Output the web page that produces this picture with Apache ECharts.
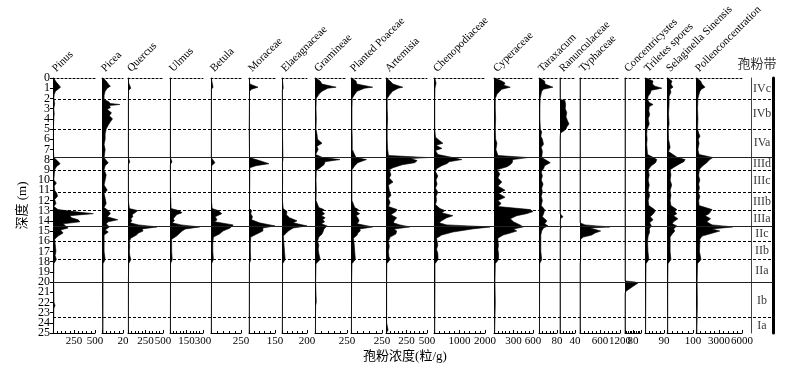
<!DOCTYPE html>
<html><head><meta charset="utf-8">
<script src="https://cdn.jsdelivr.net/npm/echarts@6/dist/echarts.min.js"></script>
<style>html,body{margin:0;padding:0;background:#fff}#c{width:802px;height:372px}</style>
</head><body><div id="c"></div>
<script>
// ---------- data ----------
const taxa = ['Pinus','Picea','Quercus','Ulmus','Betula','Moraceae','Elaeagnaceae','Gramineae','Planted Poaceae','Artemisia','Chenopodiaceae','Cyperaceae','Taraxacum','Ranunculaceae','Typhaceae','Concentricystes','Triletes spores','Selaginella Sinensis','Pollenconcentration'];
const axisMax = [500,20,500,300,250,150,200,250,250,500,2000,600,80,40,1200,160,90,100,6000];
const tickLabels = [[250,500],[20],[250,500],[150,300],[250],[150],[200],[250],[250],[250,500],[1000,2000],[300,600],[80],[40],[600,1200],[80],[90],[100],[3000,6000]];

// [depth (m), concentration]
const pinus = [[0,10],[0.3,30],[0.5,50],[0.7,70],[0.9,90],[1.1,60],[1.3,30],[1.6,15],[2,10],[2.5,20],[3,10],[3.5,15],[4,10],[5,5],[6,5],[7,5],[7.8,10],[8.1,50],[8.4,85],[8.7,40],[9,20],[9.5,15],[10,10],[10.3,40],[10.6,15],[11,20],[11.3,45],[11.6,55],[11.9,20],[12.3,35],[12.6,10],[12.9,60],[13.1,250],[13.3,480],[13.5,200],[13.7,220],[13.9,300],[14.1,320],[14.3,120],[14.5,150],[14.7,180],[14.9,90],[15.2,120],[15.5,60],[15.8,20],[16.2,25],[16.6,30],[17,35],[17.4,25],[17.8,40],[18.2,10],[19,10],[20,8],[21,10],[22,12],[22.3,24],[22.6,10],[24,8],[25,5]];
const picea = [[0,1],[0.3,4],[0.6,6],[0.8,8],[1.0,5],[1.3,3],[1.7,2],[2.1,2],[2.3,6],[2.5,8],[2.6,17],[2.7,7],[2.9,8],[3.1,5],[3.4,9],[3.7,7],[4.0,10],[4.3,8],[4.6,6],[5,4],[5.5,3],[6,3],[6.5,2],[7,3],[7.8,2],[8.1,4],[8.3,6],[8.6,3],[9,2],[9.5,4],[10,3],[10.5,2],[11,5],[11.3,2],[11.8,3],[12.3,4],[12.7,2],[13,6],[13.3,8],[13.6,5],[13.9,15],[14.1,6],[14.3,4],[14.6,7],[14.9,3],[15.1,6],[15.4,2],[16,2],[16.5,2],[17,2],[17.8,3],[18.2,1],[19,1],[20,1],[25,1]];
const quercus = [[0,5],[0.5,10],[1,40],[1.2,10],[2,5],[4,5],[6,5],[7.8,5],[8.2,25],[8.5,5],[10,5],[12,5],[12.8,20],[13,140],[13.2,100],[13.4,60],[13.6,70],[13.8,40],[14,55],[14.2,30],[14.4,150],[14.6,415],[14.8,200],[15,215],[15.2,150],[15.4,120],[15.7,40],[16,20],[16.5,25],[17,20],[17.4,25],[17.8,40],[18.2,10],[20,5],[25,5]];
const ulmus = [[0,3],[1,5],[2,3],[5,3],[7.8,3],[8.2,18],[8.5,3],[11,3],[12.8,10],[13,80],[13.2,110],[13.4,60],[13.6,45],[13.8,30],[14,40],[14.2,20],[14.4,100],[14.6,270],[14.8,140],[15,110],[15.2,90],[15.5,60],[15.8,15],[16.2,15],[17,15],[17.8,20],[18.2,5],[25,3]];
const betula = [[0,2],[0.9,17],[1.1,3],[5,2],[7.8,2],[8.3,33],[8.6,5],[12,3],[12.8,10],[13,60],[13.3,90],[13.6,35],[13.9,50],[14.1,30],[14.4,185],[14.7,160],[15,100],[15.3,70],[15.6,20],[16.2,15],[17,15],[17.8,20],[18.2,5],[25,2]];
const moraceae = [[0,1],[0.6,5],[0.9,52],[1.1,15],[1.3,3],[5,1],[7.8,3],[8.1,60],[8.4,115],[8.6,40],[8.8,5],[12.8,3],[13,15],[13.3,10],[13.6,20],[13.9,15],[14.2,60],[14.5,150],[14.7,80],[15,80],[15.3,45],[15.6,10],[16.2,8],[17,8],[17.8,10],[18.2,2],[25,1]];
const elaeagnaceae = [[0,2],[1,10],[1.2,2],[5,3],[8,8],[8.3,3],[10,5],[12,3],[12.8,10],[13.1,40],[13.4,35],[13.7,60],[14,120],[14.2,90],[14.5,200],[14.7,90],[15,50],[15.2,35],[15.5,10],[16.2,15],[17,20],[17.8,25],[18.2,5],[25,2]];
const gramineae = [[0,5],[0.3,40],[0.6,55],[0.9,165],[1.0,100],[1.3,55],[1.6,30],[2,10],[3,8],[4,10],[5,8],[5.5,15],[6,20],[6.4,55],[6.7,15],[7,25],[7.5,5],[7.8,60],[8,195],[8.2,80],[8.5,70],[8.8,40],[9.1,10],[10,8],[11,10],[12,8],[12.7,30],[12.9,70],[13.1,55],[13.3,75],[13.5,50],[13.7,80],[13.9,60],[14.1,75],[14.3,50],[14.5,95],[14.8,70],[15,65],[15.3,55],[15.6,30],[16,20],[16.4,30],[16.8,25],[17.2,30],[17.8,40],[18.2,8],[20,5],[22,10],[22.3,5],[25,3]];
const plantedPoaceae = [[0,5],[0.3,40],[0.6,48],[0.9,175],[1.0,110],[1.3,48],[1.7,25],[2,10],[3,8],[5,8],[6,10],[7,10],[7.8,40],[8,125],[8.3,55],[8.6,30],[9,8],[10,8],[11,8],[12,8],[12.7,30],[12.9,60],[13.1,45],[13.3,70],[13.5,40],[13.7,55],[14,65],[14.3,50],[14.6,175],[14.8,70],[15,75],[15.2,55],[15.4,50],[15.7,20],[16.2,25],[17,30],[17.8,35],[18.2,8],[20,5],[25,3]];
const artemisia = [[0,5],[0.3,50],[0.6,85],[0.9,205],[1.0,150],[1.3,80],[1.7,40],[2,15],[3,15],[4,20],[5,15],[6,15],[7,20],[7.6,30],[7.8,500],[7.9,300],[8.1,380],[8.3,350],[8.5,200],[8.8,85],[9,40],[9.5,60],[9.8,40],[10.2,85],[10.5,30],[11,40],[11.5,60],[11.8,30],[12.2,50],[12.6,30],[12.9,135],[13.1,120],[13.4,60],[13.7,130],[14,100],[14.2,90],[14.4,170],[14.6,290],[14.8,100],[15,130],[15.3,120],[15.6,50],[16,30],[16.5,40],[17,30],[17.5,35],[17.8,50],[18.2,10],[20,8],[24,8],[24.7,25],[25,5]];
const chenopodiaceae = [[0,30],[0.5,80],[1,40],[2,30],[3,30],[4,30],[5,30],[5.8,60],[6.1,200],[6.4,350],[6.6,80],[6.9,310],[7.1,60],[7.5,150],[7.8,740],[8,1090],[8.2,600],[8.4,500],[8.6,300],[8.9,100],[9.2,60],[9.6,150],[10,80],[10.4,120],[10.8,60],[11.2,150],[11.6,80],[12,100],[12.4,60],[12.8,230],[13,430],[13.2,300],[13.5,740],[13.7,500],[14,300],[14.2,200],[14.4,500],[14.6,2200],[14.8,1500],[15.1,740],[15.4,300],[15.7,100],[16,120],[16.4,150],[16.8,100],[17.2,150],[17.8,160],[18.2,40],[20,40],[25,30]];
const cyperaceae = [[0,10],[0.3,120],[0.5,170],[0.7,150],[0.9,250],[1.1,120],[1.3,90],[1.6,45],[2,20],[3,20],[4,25],[5,20],[6,25],[6.4,45],[7,30],[7.6,60],[7.8,520],[8,290],[8.3,280],[8.5,250],[8.7,200],[9,45],[9.4,90],[9.8,60],[10.2,120],[10.6,60],[11,170],[11.3,70],[11.7,170],[12,60],[12.3,110],[12.6,60],[12.9,560],[13.1,600],[13.3,500],[13.5,350],[13.8,250],[14.1,300],[14.4,400],[14.6,450],[14.8,300],[15,350],[15.2,250],[15.4,140],[15.7,60],[16,60],[16.4,70],[16.8,60],[17.2,70],[17.8,70],[18.2,20],[20,15],[22,20],[25,10]];
const taraxacum = [[0,3],[0.3,25],[0.6,27],[0.9,62],[1.1,20],[1.3,12],[1.7,8],[2,5],[3,4],[4,4],[5,6],[5.3,12],[5.7,8],[6,15],[6.5,20],[6.8,10],[7.2,15],[7.8,12],[8.1,35],[8.3,50],[8.6,25],[8.9,20],[9.2,10],[9.6,15],[10,10],[10.4,18],[10.8,12],[11.2,15],[11.6,10],[12,15],[12.5,10],[12.9,25],[13.2,22],[13.6,15],[14,35],[14.3,25],[14.5,40],[14.7,20],[15,12],[15.4,8],[16,8],[17,8],[17.8,12],[18.2,3],[25,2]];
const ranunculaceae = [[0,0],[2.1,0],[2.2,13],[2.6,15],[3.0,14],[3.4,18],[3.8,16],[4.2,20],[4.5,24],[4.8,18],[5.0,16],[5.2,10],[5.4,1],[6,0],[13.3,0],[13.6,8],[13.8,1],[14.4,0],[14.6,4],[14.8,0],[25,0]];
const typhaceae = [[0,0],[7.9,0],[8.0,30],[8.1,0],[13.4,0],[13.5,20],[13.6,0],[14.2,0],[14.4,150],[14.5,500],[14.6,900],[14.7,300],[14.8,300],[15.0,620],[15.2,450],[15.4,350],[15.6,100],[15.8,20],[16.2,20],[17,15],[17.8,20],[18.2,0],[25,0]];
const concentricystes = [[0,0],[19.9,0],[20.0,100],[20.1,130],[20.3,100],[20.5,70],[20.7,40],[20.9,10],[21.1,0],[25,0]];
const triletes = [[0,5],[0.3,38],[0.6,35],[0.8,47],[1.0,80],[1.2,30],[1.5,25],[1.8,15],[2.1,12],[2.4,20],[2.6,38],[2.8,20],[3.2,18],[3.6,22],[4,15],[4.5,20],[5,10],[5.5,8],[6,10],[6.5,8],[7,10],[7.5,12],[7.8,40],[8.0,56],[8.3,50],[8.6,30],[9,15],[9.5,20],[10,15],[10.5,20],[11,15],[11.5,22],[12,15],[12.5,18],[12.9,45],[13.1,47],[13.3,40],[13.6,25],[13.9,38],[14.2,22],[14.5,30],[14.8,20],[15.1,22],[15.5,15],[16,12],[17,14],[17.8,18],[18.2,5],[20,4],[25,3]];
const selaginella = [[0,3],[0.3,19],[0.6,15],[0.9,23],[1.1,12],[1.4,15],[1.8,8],[2.5,8],[3.5,6],[4.5,8],[5,5],[6,6],[6.8,12],[7.2,6],[7.8,40],[8.0,70],[8.2,65],[8.4,50],[8.7,30],[9,12],[9.5,15],[10,12],[10.5,18],[11,12],[11.5,15],[12,12],[12.5,15],[12.9,38],[13.1,30],[13.3,38],[13.5,25],[13.8,42],[14.1,25],[14.3,20],[14.5,38],[14.8,25],[15,30],[15.3,20],[15.6,12],[16,12],[17,12],[17.8,15],[18.2,4],[20,3],[25,3]];
const pollenConc = [[0,100],[0.3,600],[0.6,780],[0.9,1170],[1.1,700],[1.3,520],[1.7,350],[2,250],[3,200],[4,250],[5,200],[5.4,350],[5.7,520],[6,300],[6.4,400],[7,250],[7.5,400],[7.8,2200],[8,1800],[8.3,1400],[8.6,900],[8.9,500],[9.2,400],[9.6,350],[10,500],[10.4,350],[10.8,450],[11.2,300],[11.6,500],[12,350],[12.5,400],[12.9,2100],[13.1,1900],[13.3,1700],[13.5,1200],[13.8,1900],[14.1,1400],[14.4,2100],[14.6,4800],[14.8,2100],[15,3100],[15.2,2200],[15.5,800],[15.8,500],[16.2,500],[17,450],[17.8,650],[18.2,200],[20,150],[22,180],[25,120]];
const seriesData = [pinus,picea,quercus,ulmus,betula,moraceae,elaeagnaceae,gramineae,plantedPoaceae,artemisia,chenopodiaceae,cyperaceae,taraxacum,ranunculaceae,typhaceae,concentricystes,triletes,selaginella,pollenConc];

const zoneBounds = [2.1,5,7.8,9,11.2,13,14.5,16,17.8,20,23.5];
const zoneBoundSolid = [false,false,true,false,false,false,true,false,false,true,false];
const zoneNames = ['IVc','IVb','IVa','IIId','IIIc','IIIb','IIIa','IIc','IIb','IIa','Ib','Ia'];
const zoneMids = [1.1,3.5,6.4,8.4,10.1,12.1,13.8,15.3,16.9,18.9,21.8,24.3];

// ---------- layout ----------
const panelX = [[53,95],[102,123],[128,163],[170,203],[211,241],[249,275],[282,307],[315,347],[351,382],[386,427],[434,485],[494,533],[539,557],[560,575],[580,620],[625,641],[645,664],[667,693],[696,742]];
const TOP = 78, H = 255;
const SERIF = 'Liberation Serif';

const depthCats = [];
for (let i = 0; i <= 250; i++) depthCats.push((i/10).toFixed(1));

const grid = [], xAxis = [], yAxis = [], series = [], graphic = [];
panelX.forEach((p, i) => {
  grid.push({left: p[0], top: TOP, width: p[1]-p[0], height: H});
  xAxis.push({
    type: 'value', gridIndex: i, position: 'bottom', min: 0, max: axisMax[i], interval: tickLabels[i][0],
    axisLine: {show: true, onZero: false, lineStyle: {color: '#000', width: 1}},
    axisTick: {show: true, inside: true, length: 3, lineStyle: {color: '#000'}},
    minorTick: {show: true, splitNumber: 5, length: 2, lineStyle: {color: '#000'}},
    splitLine: {show: false}, minorSplitLine: {show: false},
    axisLabel: {show: true, fontFamily: SERIF, fontSize: 11, color: '#000', margin: 3,
      showMinLabel: false, showMaxLabel: true, hideOverlap: false,
      formatter: v => tickLabels[i].indexOf(v) >= 0 ? String(v) : ''}
  });
  xAxis.push({
    type: 'value', gridIndex: i, position: 'top', min: 0, max: axisMax[i], interval: tickLabels[i][0],
    axisLine: {show: true, onZero: false, lineStyle: {color: '#000', width: 1, type: [2, 2]}},
    axisTick: {show: false}, axisLabel: {show: false}, splitLine: {show: false}
  });
  const first = i === 0;
  yAxis.push({
    type: 'category', gridIndex: i, data: depthCats, inverse: true, boundaryGap: false,
    axisLine: {show: true, onZero: false, lineStyle: {color: first ? '#000' : '#444', width: 1}},
    axisTick: {show: first, inside: false, length: 3, interval: idx => idx % 10 === 0, lineStyle: {color: '#000'}},
    axisLabel: {show: first, interval: 0, hideOverlap: false,
      fontFamily: SERIF, fontSize: 12, color: '#000', margin: 3,
      formatter: (v, idx) => idx % 10 === 0 ? String(Math.round(parseFloat(v))) : ''},
    splitLine: {show: false},
    name: first ? '深度 (m)' : '', nameLocation: 'middle', nameGap: 24, nameRotate: 90,
    nameTextStyle: {fontFamily: SERIF + ', Noto Sans CJK SC', fontSize: 13, color: '#000'}
  });
  series.push({
    type: 'line', xAxisIndex: 2*i, yAxisIndex: i,
    data: seriesData[i].map(d => [d[1], d[0].toFixed(1)]),
    showSymbol: false, symbol: 'none', smooth: false,
    lineStyle: {color: '#000', width: 0.6},
    areaStyle: {color: '#000', opacity: 1},
    clip: i !== 10, z: 3, animation: false, silent: true
  });
  graphic.push({
    type: 'text', x: p[0] + 5, y: TOP - 4, rotation: Math.PI/4,
    style: {text: taxa[i], font: '11px "Liberation Serif"', fill: '#000', textAlign: 'left', textVerticalAlign: 'bottom'}
  });
});

// overlay grid for zone boundaries
const gO = panelX.length;
grid.push({left: 53, top: TOP, width: 773-53, height: H});
xAxis.push({type: 'value', gridIndex: gO, min: 0, max: 1, show: false});
yAxis.push({type: 'category', gridIndex: gO, data: depthCats, inverse: true, boundaryGap: false, show: false});
series.push({
  type: 'line', xAxisIndex: xAxis.length-1, yAxisIndex: gO, data: [[0, '0.0']],
  showSymbol: false, lineStyle: {opacity: 0}, animation: false, silent: true, z: 2,
  markLine: {silent: true, symbol: ['none','none'], label: {show: false}, animation: false,
    data: zoneBounds.map((b, k) => ({yAxis: b.toFixed(1),
      lineStyle: {type: zoneBoundSolid[k] ? 'solid' : [3, 2], color: zoneBoundSolid[k] ? '#222' : '#000', width: 1}}))}
});

// zone column
const gZ = gO + 1;
grid.push({left: 751, top: TOP, width: 22, height: H});
xAxis.push({type: 'value', gridIndex: gZ, min: 0, max: 1, show: false});
yAxis.push({type: 'category', gridIndex: gZ, data: depthCats, inverse: true, boundaryGap: false,
  axisLine: {show: true, onZero: false, lineStyle: {color: '#444', width: 1}}, axisTick: {show: false}, axisLabel: {show: false}});
yAxis.push({type: 'category', gridIndex: gZ, data: depthCats, inverse: true, boundaryGap: false, position: 'right',
  axisLine: {show: true, onZero: false, lineStyle: {color: '#000', width: 3}}, axisTick: {show: false}, axisLabel: {show: false}});
series.push({
  type: 'scatter', xAxisIndex: xAxis.length-1, yAxisIndex: yAxis.length-2,
  data: zoneNames.map((n, k) => ({name: n, value: [0.5, zoneMids[k].toFixed(1)]})),
  symbolSize: 1, itemStyle: {color: 'rgba(0,0,0,0)'}, animation: false, silent: true,
  label: {show: true, position: 'inside', formatter: '{b}', fontFamily: SERIF, fontSize: 12, color: '#000'}
});

graphic.push({type: 'text', x: 757, y: 63,
  style: {text: '孢粉带', font: '13px "Noto Sans CJK SC"', fill: '#333', textAlign: 'center', textVerticalAlign: 'middle'}});
graphic.push({type: 'text', x: 405, y: 357,
  style: {text: '孢粉浓度(粒/g)', font: '13px "Liberation Serif", "Noto Sans CJK SC"', fill: '#000', textAlign: 'center', textVerticalAlign: 'middle'}});

const chart = echarts.init(document.getElementById('c'), null, {renderer: 'canvas'});
chart.setOption({animation: false, backgroundColor: '#fff', grid, xAxis, yAxis, series, graphic});
</script></body></html>
